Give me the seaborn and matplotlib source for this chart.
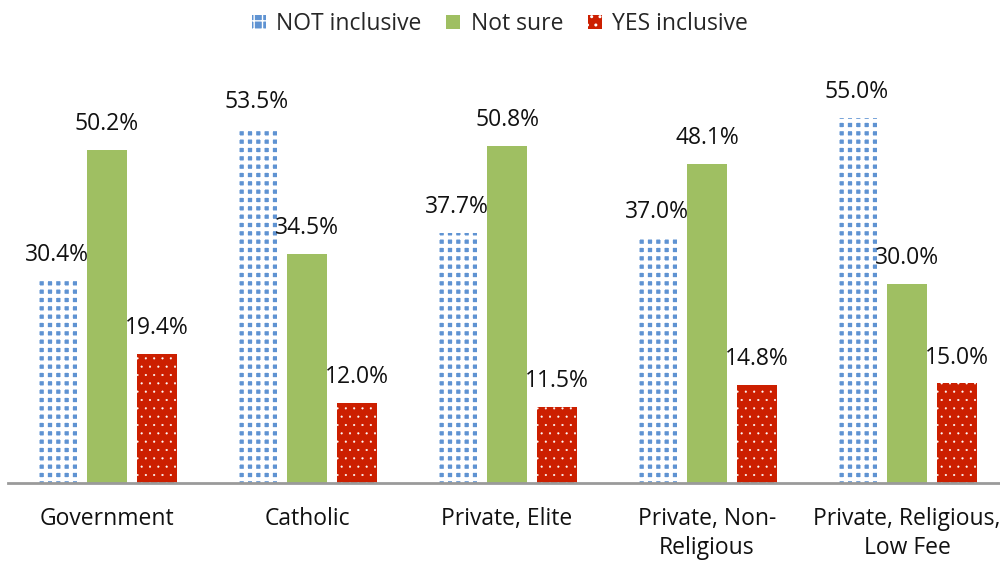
import matplotlib
matplotlib.use("Agg")
import matplotlib.pyplot as plt
import seaborn as sns
import pandas as pd
from matplotlib.patches import Patch

categories = ["Government", "Catholic", "Private, Elite",
              "Private, Non-\nReligious", "Private, Religious,\nLow Fee"]
series_names = ["NOT inclusive", "Not sure", "YES inclusive"]
not_inclusive = [30.4, 53.5, 37.7, 37.0, 55.0]
not_sure = [50.2, 34.5, 50.8, 48.1, 30.0]
yes_inclusive = [19.4, 12.0, 11.5, 14.8, 15.0]

rows = []
for name, vals in zip(series_names, [not_inclusive, not_sure, yes_inclusive]):
    for cat, v in zip(categories, vals):
        rows.append({"School": cat, "Response": name, "Percent": v})
df = pd.DataFrame(rows)

sns.set_theme(style="white")
plt.rcParams["font.family"] = ["Open Sans", "DejaVu Sans"]

fills = {"NOT inclusive": "#5f93d2", "Not sure": "#9fbf62", "YES inclusive": "#cc1f00"}
hatches = {"NOT inclusive": "++", "Not sure": "", "YES inclusive": ".."}
hatch_widths = {"NOT inclusive": 2.9, "Not sure": 1.0, "YES inclusive": 0.3}
FS = 16.5

fig = plt.figure(figsize=(10, 5.63), dpi=100)
ax = fig.add_axes([0.008, 0.142, 0.992, 0.75])

sns.barplot(data=df, x="School", y="Percent", hue="Response",
            hue_order=series_names, order=categories,
            palette=fills, width=0.75, gap=0.2, ax=ax, legend=False)


def style_patch(p, name):
    p.set_facecolor(fills[name])
    p.set_edgecolor("white")
    p.set_linewidth(0)
    p.set_hatch(hatches[name])
    if hasattr(p, "set_hatch_linewidth"):
        p.set_hatch_linewidth(hatch_widths[name])


for container, name in zip(ax.containers, series_names):
    for bar in container:
        style_patch(bar, name)
    ax.bar_label(container, labels=[f"{b.get_height():.1f}%" for b in container],
                 padding=10, fontsize=FS, color="#111111")

ax.set_ylim(0, 63.6)
ax.set_xlim(-0.495, 4.465)
ax.set_xlabel("")
ax.set_ylabel("")
ax.set_yticks([])
ax.tick_params(axis="x", length=0, pad=17, labelsize=FS, labelcolor="#111111")
for lbl in ax.get_xticklabels():
    lbl.set_linespacing(1.3)
for s in ["top", "right", "left"]:
    ax.spines[s].set_visible(False)
ax.spines["bottom"].set_color("#9a9a9a")
ax.spines["bottom"].set_linewidth(2)

handles = []
for n in series_names:
    h = Patch(label=n)
    style_patch(h, n)
    handles.append(h)
fig.legend(handles, series_names, loc="upper center", bbox_to_anchor=(0.5, 1.015),
           ncol=3, frameon=False, fontsize=FS, handlelength=0.6, handleheight=0.6,
           handletextpad=0.45, columnspacing=1.1)

fig.savefig("out.png", dpi=100)
